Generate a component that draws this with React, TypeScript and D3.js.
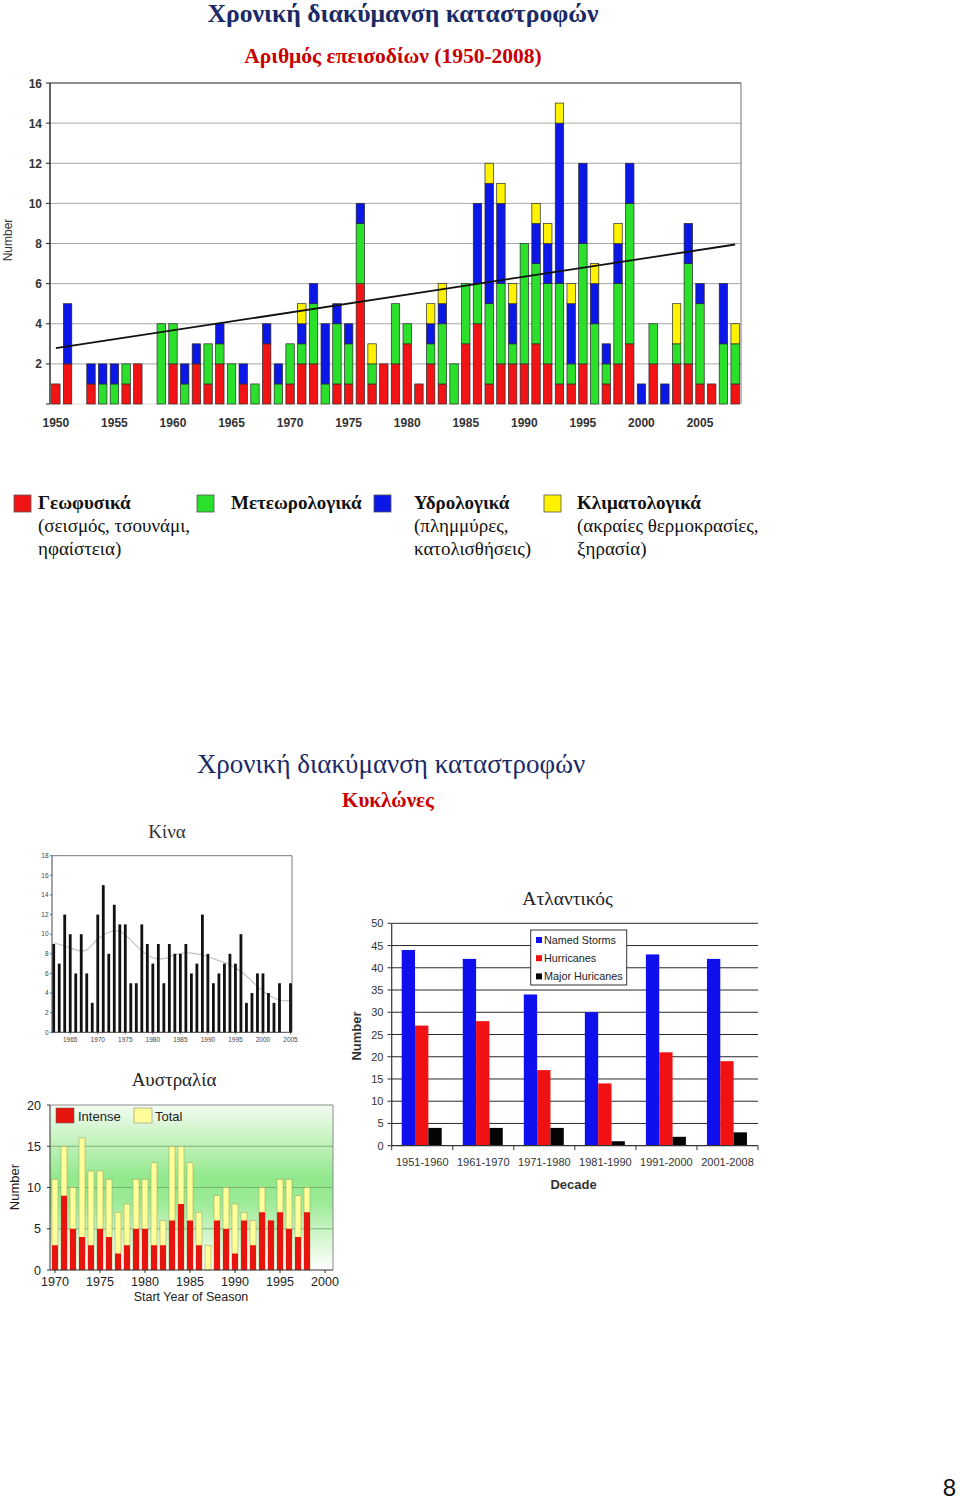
import React from 'react';
import * as d3 from 'd3';

// ---------- Top chart: disasters 1950-2008 ----------
const years = d3.range(1950, 2009);
const geophysical = [
  1, 2, 0, 1, 0, 0, 1, 2, 0, 0,
  2, 0, 2, 1, 2, 0, 1, 0, 3, 0,
  1, 2, 2, 0, 1, 1, 6, 1, 2, 2,
  3, 1, 2, 1, 0, 3, 4, 1, 2, 2,
  2, 3, 2, 1, 1, 2, 0, 1, 2, 3,
  0, 2, 0, 2, 2, 1, 1, 0, 1,
];
const meteorological = [
  0, 0, 0, 0, 1, 1, 1, 0, 0, 4,
  2, 1, 0, 2, 1, 2, 0, 1, 0, 1,
  2, 1, 3, 1, 3, 2, 3, 1, 0, 3,
  1, 0, 1, 3, 2, 3, 2, 4, 4, 1,
  6, 4, 4, 5, 1, 6, 4, 1, 4, 7,
  0, 2, 0, 1, 5, 4, 0, 3, 2,
];
const hydrological = [
  0, 3, 0, 1, 1, 1, 0, 0, 0, 0,
  0, 1, 1, 0, 1, 0, 1, 0, 1, 1,
  0, 1, 1, 3, 1, 1, 1, 0, 0, 0,
  0, 0, 1, 1, 0, 0, 4, 6, 4, 2,
  0, 2, 2, 8, 3, 4, 2, 1, 2, 2,
  1, 0, 1, 0, 2, 1, 0, 3, 0,
];
const climatological = [
  0, 0, 0, 0, 0, 0, 0, 0, 0, 0,
  0, 0, 0, 0, 0, 0, 0, 0, 0, 0,
  0, 1, 0, 0, 0, 0, 0, 1, 0, 0,
  0, 0, 1, 1, 0, 0, 0, 1, 1, 1,
  0, 1, 1, 1, 1, 0, 1, 0, 1, 0,
  0, 0, 0, 2, 0, 0, 0, 0, 1,
];
const trendYears = [1950, 2008];
const trendValues = [2.78, 7.95];
const topYTicks = [2, 4, 6, 8, 10, 12, 14, 16];
const topXTicks = [1950, 1955, 1960, 1965, 1970, 1975, 1980, 1985, 1990, 1995, 2000, 2005];

// ---------- China ----------
const chinaYears = d3.range(1962, 2006);
const chinaCounts = [
  9, 7, 12, 10, 6, 10, 6, 3, 12, 15, 8, 13, 11, 11, 5, 5, 11, 9, 7, 9, 5, 9,
  8, 8, 9, 6, 7, 12, 8, 5, 6, 7, 8, 7, 10, 3, 4, 6, 6, 4, 3, 5, 0, 5,
];
const chinaSmoothYears = [1962, 1964, 1966, 1967, 1968, 1970, 1972, 1974, 1976, 1978, 1980, 1982, 1984, 1986, 1988, 1990, 1992, 1994, 1996, 1998, 2000, 2002, 2004, 2005];
const chinaSmoothValues = [9.1, 8.8, 8.4, 8.3, 8.4, 9.5, 10.2, 10.3, 9.4, 8.3, 7.6, 7.5, 7.9, 8.1, 8.0, 7.7, 7.3, 6.9, 6.2, 5.2, 4.2, 3.5, 3.2, 3.3];
const chinaYTicks = [0, 2, 4, 6, 8, 10, 12, 14, 16, 18];
const chinaXTicks = [1965, 1970, 1975, 1980, 1985, 1990, 1995, 2000, 2005];

// ---------- Australia ----------
const ausYears = d3.range(1970, 1999);
const ausIntense = [3, 9, 5, 4, 3, 5, 4, 2, 3, 5, 5, 3, 3, 6, 8, 6, 3, 0, 6, 5, 2, 6, 3, 7, 6, 7, 5, 4, 7];
const ausTotal = [11, 15, 10, 16, 12, 12, 11, 7, 8, 11, 11, 13, 6, 15, 15, 13, 7, 3, 9, 10, 8, 7, 6, 10, 6, 11, 11, 9, 10];
const ausYTicks = [0, 5, 10, 15, 20];
const ausXTicks = [1970, 1975, 1980, 1985, 1990, 1995, 2000];

// ---------- Atlantic ----------
const decades = ['1951-1960', '1961-1970', '1971-1980', '1981-1990', '1991-2000', '2001-2008'];
const namedStorms = [44, 42, 34, 30, 43, 42];
const hurricanes = [27, 28, 17, 14, 21, 19];
const majorHurricanes = [4, 4, 4, 1, 2, 3];
const atlYTicks = [0, 5, 10, 15, 20, 25, 30, 35, 40, 45, 50];

const SERIF = '"Liberation Serif", "Times New Roman", serif';
const SANS = '"Liberation Sans", Arial, sans-serif';

const C_RED = '#f21414';
const C_GREEN = '#2be02b';
const C_BLUE = '#0b17e6';
const C_YELLOW = '#fff200';

function TopChart() {
  const x = d3.scaleBand<number>().domain(years).range([50, 741]).paddingInner(0.28).paddingOuter(0.14);
  const y = d3.scaleLinear().domain([0, 16]).range([404, 83]);
  const rows = years.map((yr, i) => ({
    year: yr,
    geo: geophysical[i],
    met: meteorological[i],
    hyd: hydrological[i],
    cli: climatological[i],
  }));
  const keys = ['geo', 'met', 'hyd', 'cli'];
  const colors: Record<string, string> = { geo: C_RED, met: C_GREEN, hyd: C_BLUE, cli: C_YELLOW };
  const stack = d3.stack<any>().keys(keys)(rows);
  const tx = (yr: number) => (x(yr) as number) + x.bandwidth() / 2;
  const trend = d3.line<number>().x((d, i) => tx(trendYears[i])).y((d) => y(d));
  return (
    <g>
      {topYTicks.map((t) => (
        <line key={'g' + t} x1={50} x2={741} y1={y(t)} y2={y(t)} stroke={t === 16 ? '#6a6a6a' : '#a8a8a8'} strokeWidth={t === 16 ? 1.6 : 1} />
      ))}
      <line x1={741} x2={741} y1={y(16)} y2={y(0)} stroke="#8a8a8a" strokeWidth={1.2} />
      <line x1={50} x2={741} y1={y(0)} y2={y(0)} stroke="#dcdcdc" strokeWidth={1} />
      {stack.map((s) => (
        <g key={s.key}>
          {s.map((d, i) =>
            d[1] - d[0] > 0 ? (
              <rect
                key={i}
                x={x(years[i])}
                width={x.bandwidth()}
                y={y(d[1])}
                height={y(d[0]) - y(d[1])}
                fill={colors[s.key]}
                stroke="#2a2a2a"
                strokeWidth={0.7}
              />
            ) : null
          )}
        </g>
      ))}
      <path d={trend(trendValues) as string} fill="none" stroke="#111" strokeWidth={1.8} />
      <line x1={50} x2={50} y1={y(16)} y2={y(0)} stroke="#222" strokeWidth={1.4} />
      {[0, ...topYTicks].map((t) => (
        <line key={'t' + t} x1={46} x2={50} y1={y(t)} y2={y(t)} stroke="#222" strokeWidth={1} />
      ))}
      {topYTicks.map((t) => (
        <text key={'l' + t} x={42} y={y(t) + 4.5} textAnchor="end" fontFamily={SANS} fontWeight="bold" fontSize={12} fill="#333">
          {t}
        </text>
      ))}
      {topXTicks.map((t) => (
        <text key={'x' + t} x={tx(t)} y={427} textAnchor="middle" fontFamily={SANS} fontWeight="bold" fontSize={12} fill="#333">
          {t}
        </text>
      ))}
      <text transform="translate(12,240) rotate(-90)" textAnchor="middle" fontFamily={SANS} fontSize={12} fill="#333">
        Number
      </text>
    </g>
  );
}

function TopLegend() {
  const items = [
    { color: C_RED, sx: 14, tx: 38, lines: ['Γεωφυσικά', '(σεισμός, τσουνάμι,', 'ηφαίστεια)'] },
    { color: C_GREEN, sx: 197, tx: 231, lines: ['Μετεωρολογικά'] },
    { color: C_BLUE, sx: 374, tx: 414, lines: ['Υδρολογικά', '(πλημμύρες,', 'κατολισθήσεις)'] },
    { color: C_YELLOW, sx: 544, tx: 577, lines: ['Κλιματολογικά', '(ακραίες θερμοκρασίες,', 'ξηρασία)'] },
  ];
  return (
    <g>
      {items.map((it, k) => (
        <g key={k}>
          <rect x={it.sx} y={495} width={17} height={17} fill={it.color} stroke="#555" strokeWidth={0.8} />
          {it.lines.map((ln, j) => (
            <text
              key={j}
              x={it.tx}
              y={509 + j * 23}
              fontFamily={SERIF}
              fontSize={19}
              fontWeight={j === 0 ? 'bold' : 'normal'}
              fill="#111"
            >
              {ln}
            </text>
          ))}
        </g>
      ))}
    </g>
  );
}

function ChinaChart() {
  const x = d3.scaleLinear().domain([1962, 2005]).range([53.7, 290.5]);
  const y = d3.scaleLinear().domain([0, 18]).range([1032.3, 855.7]);
  const smooth = d3
    .line<number>()
    .x((d, i) => x(chinaSmoothYears[i]))
    .y((d) => y(d))
    .curve(d3.curveCatmullRom);
  return (
    <g>
      <line x1={52} x2={292} y1={y(18)} y2={y(18)} stroke="#555" strokeWidth={0.8} />
      <line x1={292} x2={292} y1={y(18)} y2={y(0)} stroke="#555" strokeWidth={0.8} />
      <path d={smooth(chinaSmoothValues) as string} fill="none" stroke="#c4c4c4" strokeWidth={1.2} />
      {chinaYears.map((yr, i) =>
        chinaCounts[i] > 0 ? (
          <rect key={yr} x={x(yr) - 1.4} width={2.8} y={y(chinaCounts[i])} height={y(0) - y(chinaCounts[i])} fill="#111" />
        ) : null
      )}
      <line x1={52} x2={52} y1={y(18)} y2={y(0)} stroke="#333" strokeWidth={0.9} />
      <line x1={52} x2={292} y1={y(0)} y2={y(0)} stroke="#333" strokeWidth={0.9} />
      {chinaYTicks.map((t) => (
        <g key={'y' + t}>
          <line x1={50} x2={52} y1={y(t)} y2={y(t)} stroke="#333" strokeWidth={0.7} />
          <text x={48.5} y={y(t) + 2.3} textAnchor="end" fontFamily={SANS} fontSize={6.5} fill="#444">
            {t}
          </text>
        </g>
      ))}
      {chinaXTicks.map((t) => (
        <g key={'x' + t}>
          <line x1={x(t)} x2={x(t)} y1={y(0)} y2={y(0) + 2} stroke="#333" strokeWidth={0.7} />
          <text x={x(t)} y={1042} textAnchor="middle" fontFamily={SANS} fontSize={6.5} fill="#444">
            {t}
          </text>
        </g>
      ))}
    </g>
  );
}

function AustraliaChart() {
  const x = d3.scaleLinear().domain([1970, 2000]).range([55, 325]);
  const y = d3.scaleLinear().domain([0, 20]).range([1270, 1105]);
  const left = 50;
  const right = 333;
  return (
    <g>
      <defs>
        <linearGradient id="ausBg" x1="0" y1="0" x2="0" y2="1">
          <stop offset="0%" stopColor="#f4fcf2" />
          <stop offset="22%" stopColor="#c4f2bd" />
          <stop offset="45%" stopColor="#90e88c" />
          <stop offset="60%" stopColor="#9eeb98" />
          <stop offset="82%" stopColor="#d9f7d4" />
          <stop offset="100%" stopColor="#ffffff" />
        </linearGradient>
      </defs>
      <rect x={left} y={y(20)} width={right - left} height={y(0) - y(20)} fill="url(#ausBg)" />
      {[5, 10, 15].map((t) => (
        <line key={'g' + t} x1={left} x2={right} y1={y(t)} y2={y(t)} stroke="#6fa46a" strokeWidth={0.8} />
      ))}
      <line x1={left} x2={right} y1={y(20)} y2={y(20)} stroke="#8c8c8c" strokeWidth={1} />
      <line x1={right} x2={right} y1={y(20)} y2={y(0)} stroke="#8c8c8c" strokeWidth={1} />
      {ausYears.map((yr, i) => (
        <g key={yr}>
          <rect x={x(yr) - 3} width={6} y={y(ausTotal[i])} height={y(0) - y(ausTotal[i])} fill="#ffff99" stroke="#9a9a5a" strokeWidth={0.5} />
          {ausIntense[i] > 0 ? (
            <rect x={x(yr) - 3} width={6} y={y(ausIntense[i])} height={y(0) - y(ausIntense[i])} fill="#e8150f" />
          ) : null}
        </g>
      ))}
      <line x1={left} x2={left} y1={y(20)} y2={y(0)} stroke="#333" strokeWidth={1} />
      <line x1={left} x2={right} y1={y(0)} y2={y(0)} stroke="#333" strokeWidth={1} />
      {ausYTicks.map((t) => (
        <g key={'y' + t}>
          <line x1={left - 3} x2={left} y1={y(t)} y2={y(t)} stroke="#333" />
          <text x={41} y={y(t) + 4.5} textAnchor="end" fontFamily={SANS} fontSize={12.5} fill="#222">
            {t}
          </text>
        </g>
      ))}
      {ausXTicks.map((t) => (
        <g key={'x' + t}>
          <line x1={x(t)} x2={x(t)} y1={y(0)} y2={y(0) + 3} stroke="#333" />
          <text x={x(t)} y={1286} textAnchor="middle" fontFamily={SANS} fontSize={12.5} fill="#222">
            {t}
          </text>
        </g>
      ))}
      <text x={191} y={1301} textAnchor="middle" fontFamily={SANS} fontSize={12.5} fill="#222">
        Start Year of Season
      </text>
      <text transform="translate(19,1187) rotate(-90)" textAnchor="middle" fontFamily={SANS} fontSize={13} fill="#222">
        Number
      </text>
      <rect x={56} y={1108} width={18} height={15} fill="#e8150f" stroke="#555" strokeWidth={0.5} />
      <text x={78} y={1120.5} fontFamily={SANS} fontSize={13} fill="#222">
        Intense
      </text>
      <rect x={134} y={1108} width={18} height={15} fill="#ffff99" stroke="#777" strokeWidth={0.5} />
      <text x={155} y={1120.5} fontFamily={SANS} fontSize={13} fill="#222">
        Total
      </text>
      <text x={174} y={1086} textAnchor="middle" fontFamily={SERIF} fontSize={19} fill="#222">
        Αυστραλία
      </text>
    </g>
  );
}

function AtlanticChart() {
  const x = d3.scaleBand<string>().domain(decades).range([391.7, 758]).padding(0);
  const sub = d3.scaleBand<string>().domain(['n', 'h', 'm']).range([10, 50]).padding(0);
  const y = d3.scaleLinear().domain([0, 50]).range([1145.7, 923.3]);
  const series = [
    { key: 'n', values: namedStorms, color: '#1010ee', label: 'Named Storms' },
    { key: 'h', values: hurricanes, color: '#f01212', label: 'Hurricanes' },
    { key: 'm', values: majorHurricanes, color: '#050505', label: 'Major Huricanes' },
  ];
  const boundaries = [...decades.map((d) => x(d) as number), 758];
  return (
    <g>
      {atlYTicks.filter((t) => t > 0).map((t) => (
        <line key={'g' + t} x1={391.7} x2={758} y1={y(t)} y2={y(t)} stroke="#2a2a2a" strokeWidth={1} />
      ))}
      {series.map((s) => (
        <g key={s.key}>
          {decades.map((d, i) => (
            <rect
              key={d}
              x={(x(d) as number) + (sub(s.key) as number)}
              width={sub.bandwidth()}
              y={y(s.values[i])}
              height={y(0) - y(s.values[i])}
              fill={s.color}
            />
          ))}
        </g>
      ))}
      <line x1={391.7} x2={391.7} y1={y(50)} y2={y(0)} stroke="#333" strokeWidth={1.2} />
      <line x1={391.7} x2={758} y1={y(0)} y2={y(0)} stroke="#333" strokeWidth={1.2} />
      {atlYTicks.map((t) => (
        <g key={'y' + t}>
          <line x1={387.5} x2={391.7} y1={y(t)} y2={y(t)} stroke="#333" />
          <text x={383.5} y={y(t) + 4} textAnchor="end" fontFamily={SANS} fontSize={11} fill="#333">
            {t}
          </text>
        </g>
      ))}
      {boundaries.map((b, i) => (
        <line key={'b' + i} x1={b} x2={b} y1={y(0)} y2={y(0) + 4.5} stroke="#333" />
      ))}
      {decades.map((d) => (
        <text key={'c' + d} x={(x(d) as number) + x.bandwidth() / 2} y={1165.5} textAnchor="middle" fontFamily={SANS} fontSize={11} fill="#333">
          {d}
        </text>
      ))}
      <text x={573.5} y={1189} textAnchor="middle" fontFamily={SANS} fontWeight="bold" fontSize={13} fill="#333">
        Decade
      </text>
      <text transform="translate(361,1036) rotate(-90)" textAnchor="middle" fontFamily={SANS} fontWeight="bold" fontSize={13} fill="#333">
        Number
      </text>
      <rect x={530.7} y={930} width={96} height={55} fill="#fff" stroke="#333" strokeWidth={1} />
      {series.map((s, i) => (
        <g key={'lg' + s.key}>
          <rect x={536} y={937 + i * 18.2} width={6} height={6} fill={s.color} />
          <text x={544} y={944 + i * 18.2} fontFamily={SANS} fontSize={10.8} fill="#222">
            {s.label}
          </text>
        </g>
      ))}
      <text x={567.5} y={905} textAnchor="middle" fontFamily={SERIF} fontSize={19.5} fill="#222">
        Ατλαντικός
      </text>
    </g>
  );
}

export default function App() {
  return (
    <svg width={960} height={1500} viewBox="0 0 960 1500" style={{ position: 'absolute', left: 0, top: 0, background: '#fff' }}>
      <rect x={0} y={0} width={960} height={1500} fill="#fff" />
      <text x={403} y={22} textAnchor="middle" fontFamily={SERIF} fontWeight="bold" fontSize={25.7} fill="#1a2a66">
        Χρονική διακύμανση καταστροφών
      </text>
      <text x={393} y={63} textAnchor="middle" fontFamily={SERIF} fontWeight="bold" fontSize={21.5} fill="#c80000">
        Αριθμός επεισοδίων (1950-2008)
      </text>
      <TopChart />
      <TopLegend />

      <text x={391} y={773} textAnchor="middle" fontFamily={SERIF} fontSize={27} fill="#1a2a66">
        Χρονική διακύμανση καταστροφών
      </text>
      <text x={388} y={807} textAnchor="middle" fontFamily={SERIF} fontWeight="bold" fontSize={21} fill="#c80000">
        Κυκλώνες
      </text>
      <text x={167} y={838} textAnchor="middle" fontFamily={SERIF} fontSize={19} fill="#333">
        Κίνα
      </text>
      <ChinaChart />
      <AustraliaChart />
      <AtlanticChart />

      <text x={956} y={1496} textAnchor="end" fontFamily={SANS} fontSize={24} fill="#111">
        8
      </text>
    </svg>
  );
}
